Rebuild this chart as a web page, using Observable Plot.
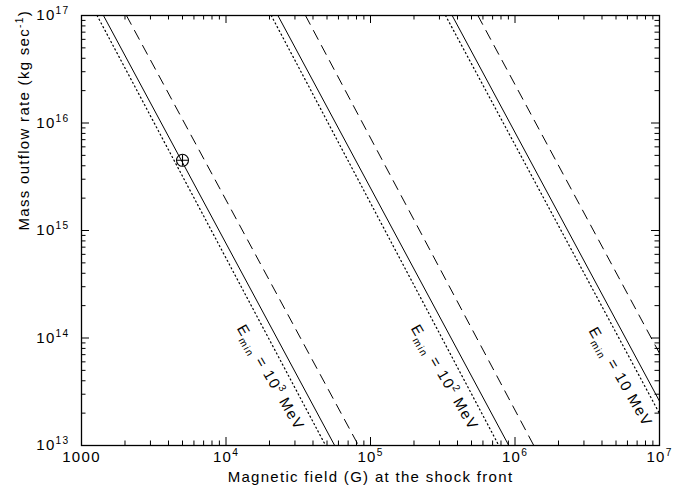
<!DOCTYPE html>
<html>
<head>
<meta charset="utf-8">
<script src="https://cdn.jsdelivr.net/npm/d3@7"></script>
<script src="https://cdn.jsdelivr.net/npm/@observablehq/plot@0.6"></script>
<style>
  html, body { margin: 0; padding: 0; background: #fff; }
  svg text { letter-spacing: 1.3px; }
</style>
</head>
<body>
<script>
// ---- axis domains and tick labels ----
const xDomain = [1e3, 1e7];
const yDomain = [1e13, 1e17];
const xTickValues = [1e3, 1e4, 1e5, 1e6, 1e7];
const xTickLabels = ["1000", "10^{4}", "10^{5}", "10^{6}", "10^{7}"];
const yTickValues = [1e13, 1e14, 1e15, 1e16, 1e17];
const yTickLabels = ["10^{13}", "10^{14}", "10^{15}", "10^{16}", "10^{17}"];

// ---- line endpoints: magnetic field (G) at mass outflow 1e17 and 1e13 kg/s ----
const massEnds = [1e17, 1e13];
const solidB  = [[1419, 56500],  [22860, 905700],  [367300, 1.462e7]];
const dottedB = [[1282, 48900],  [20560, 772700],  [330400, 1.315e7]];
const dashedB = [[2046, 82600],  [35480, 1349000], [553400, 2.203e7]];

// ---- curve labels ----
const labelTexts = ["E_{min} = 10^{3} MeV", "E_{min} = 10^{2} MeV", "E_{min} = 10 MeV"];
const labelB = [20300, 325000, 5.36e6];
const labelM = [4.3e13, 4.3e13, 4.35e13];

// ---- observed point ----
const obsB = [5000];
const obsM = [4.5e15];

const xTitle = "Magnetic field (G) at the shock front";
const yTitle = "Mass outflow rate (kg sec^{-1})";

// ---- build tables ----
function lineRows(ends) {
  const rows = [];
  ends.forEach((pair, g) => pair.forEach((b, k) => rows.push({B: b, M: massEnds[k], id: g})));
  return rows;
}
const labels = labelTexts.map((t, i) => ({t, B: labelB[i], M: labelM[i]}));
const obs = obsB.map((b, i) => ({B: b, M: obsM[i]}));

const xAll = d3.scaleLog().domain(xDomain).ticks();
const yAll = d3.scaleLog().domain(yDomain).ticks();
const xMinor = xAll.filter(v => !xTickValues.some(t => Math.abs(t - v) / t < 1e-9));
const yMinor = yAll.filter(v => !yTickValues.some(t => Math.abs(t - v) / t < 1e-9));

const W = 692, H = 492, mt = 15, mr = 33, mb = 47, ml = 81;
const fw = W - ml - mr, fh = H - mt - mb;
const majL = 8, minL = 4.5;

const xt = xTickValues.map((v, i) => ({v, l: xTickLabels[i]}));
const yt = yTickValues.map((v, i) => ({v, l: yTickLabels[i]}));

const chart = Plot.plot({
  width: W, height: H,
  marginTop: mt, marginRight: mr, marginBottom: mb, marginLeft: ml,
  style: {fontFamily: "'Liberation Sans', Arial, Helvetica, sans-serif", background: "#fff", color: "#000"},
  x: {type: "log", domain: xDomain, axis: null},
  y: {type: "log", domain: yDomain, axis: null},
  marks: [
    // curves
    Plot.line(lineRows(solidB),  {x: "B", y: "M", z: "id", stroke: "#000", strokeWidth: 1, clip: true}),
    Plot.line(lineRows(dottedB), {x: "B", y: "M", z: "id", stroke: "#000", strokeWidth: 1.2, strokeDasharray: "1.2,3", clip: true}),
    Plot.line(lineRows(dashedB), {x: "B", y: "M", z: "id", stroke: "#000", strokeWidth: 1, strokeDasharray: "10,7", clip: true}),
    // ticks: bottom / top
    Plot.ruleX(xTickValues, {x: d => d, stroke: "#000", insetTop: fh - majL}),
    Plot.ruleX(xMinor, {x: d => d, stroke: "#000", insetTop: fh - minL}),
    Plot.ruleX(xTickValues, {x: d => d, stroke: "#000", insetBottom: fh - majL}),
    Plot.ruleX(xMinor, {x: d => d, stroke: "#000", insetBottom: fh - minL}),
    // ticks: left / right
    Plot.ruleY(yTickValues, {y: d => d, stroke: "#000", insetRight: fw - majL}),
    Plot.ruleY(yMinor, {y: d => d, stroke: "#000", insetRight: fw - minL}),
    Plot.ruleY(yTickValues, {y: d => d, stroke: "#000", insetLeft: fw - majL}),
    Plot.ruleY(yMinor, {y: d => d, stroke: "#000", insetLeft: fw - minL}),
    Plot.frame({stroke: "#000", strokeWidth: 1.3}),
    // tick labels
    Plot.text(xt, {x: "v", text: "l", frameAnchor: "bottom", dy: 16.5, fontSize: 15, fill: "#000"}),
    Plot.text(yt, {y: "v", text: "l", frameAnchor: "left", textAnchor: "end", dx: -12, fontSize: 15, fill: "#000"}),
    // axis titles
    Plot.text([xTitle], {text: d => d, frameAnchor: "bottom", dy: 36, fontSize: 15, fill: "#000"}),
    Plot.text([yTitle], {text: d => d, frameAnchor: "left", rotate: -90, dx: -57, fontSize: 15, fill: "#000"}),
    // curve labels
    Plot.text(labels, {x: "B", y: "M", text: "t", rotate: 60, fontSize: 15, fill: "#000"}),
    // observed point
    Plot.dot(obs, {x: "B", y: "M", r: 6, stroke: "#000", fill: "none", strokeWidth: 1.1}),
    Plot.dot(obs, {x: "B", y: "M", r: 3.6, symbol: "plus", stroke: "#000", strokeWidth: 1.1})
  ]
});
document.body.appendChild(chart);

// turn ^{..} and _{..} into real superscript / subscript tspans
function richText(root) {
  root.querySelectorAll("text").forEach(el => {
    const s = el.textContent;
    if (!/[\^_]\{/.test(s)) return;
    const fs = parseFloat(getComputedStyle(el).fontSize) || 14;
    const re = /([\^_])\{([^}]*)\}|([^\^_]+)/g;
    el.textContent = "";
    let cur = 0, m;
    while ((m = re.exec(s)) !== null) {
      const ts = document.createElementNS("http://www.w3.org/2000/svg", "tspan");
      let off = 0;
      if (m[3] !== undefined) {
        ts.textContent = m[3];
      } else {
        ts.textContent = m[2];
        ts.setAttribute("font-size", (0.68 * fs).toFixed(1));
        off = m[1] === "^" ? -0.42 * fs : 0.3 * fs;
      }
      if (off !== cur) ts.setAttribute("dy", (off - cur).toFixed(2));
      cur = off;
      el.appendChild(ts);
    }
  });
}
richText(chart);
</script>
</body>
</html>
